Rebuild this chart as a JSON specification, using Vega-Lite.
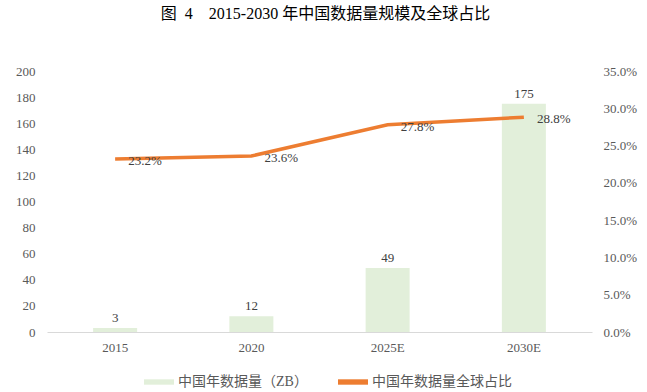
{
  "$schema": "https://vega.github.io/schema/vega-lite/v6.json",
  "width": 545,
  "height": 261,
  "autosize": "none",
  "padding": {"left": 47, "top": 71, "right": 55, "bottom": 60},
  "title": {
    "text": "图\u00a0\u00a04\u00a0\u00a0\u00a0\u00a02015-2030 年中国数据量规模及全球占比",
    "font": "Liberation Serif, Noto Sans CJK SC",
    "fontSize": 16,
    "fontWeight": "normal",
    "color": "#000000",
    "anchor": "middle",
    "offset": 43,
    "dx": 6
  },
  "data": {
    "values": [
      {"year": "2015", "volume": 3, "share": 0.232, "vlabel": "3", "slabel": "23.2%"},
      {"year": "2020", "volume": 12, "share": 0.236, "vlabel": "12", "slabel": "23.6%"},
      {"year": "2025E", "volume": 49, "share": 0.278, "vlabel": "49", "slabel": "27.8%"},
      {"year": "2030E", "volume": 175, "share": 0.288, "vlabel": "175", "slabel": "28.8%"}
    ]
  },
  "encoding": {
    "x": {
      "field": "year",
      "type": "nominal",
      "sort": null,
      "scale": {"paddingInner": 0.677, "paddingOuter": 0.3385},
      "axis": {
        "title": null,
        "labelAngle": 0,
        "ticks": false,
        "domainColor": "#d9d9d9",
        "labelPadding": 9,
        "labelFont": "Liberation Serif",
        "labelFontSize": 13,
        "labelColor": "#595959"
      }
    }
  },
  "layer": [
    {
      "mark": {"type": "bar", "color": "#E2EFDA"},
      "encoding": {
        "y": {
          "field": "volume",
          "type": "quantitative",
          "scale": {"domain": [0, 200]},
          "axis": {
            "title": null,
            "values": [0, 20, 40, 60, 80, 100, 120, 140, 160, 180, 200],
            "grid": false,
            "domain": false,
            "ticks": false,
            "labelPadding": 12,
            "labelFont": "Liberation Serif",
            "labelFontSize": 13,
            "labelColor": "#595959"
          }
        },
        "color": {
          "datum": "中国年数据量（ZB）",
          "type": "nominal",
          "scale": {"domain": ["中国年数据量（ZB）", "中国年数据量全球占比"], "range": ["#E2EFDA", "#ED7D31"]},
          "legend": {
            "title": null,
            "orient": "none",
            "legendX": 97,
            "legendY": 296,
            "direction": "horizontal",
            "symbolType": "M-1,-0.18H1V0.18H-1Z",
            "symbolSize": 900,
            "symbolStrokeWidth": 0,
            "labelFont": "Liberation Serif, Noto Sans CJK SC",
            "labelFontSize": 14,
            "labelColor": "#595959",
            "columnPadding": 30,
            "labelOffset": 4
          }
        }
      }
    },
    {
      "mark": {"type": "text", "dy": -10, "font": "Liberation Serif", "fontSize": 13, "color": "#404040"},
      "encoding": {
        "y": {"field": "volume", "type": "quantitative", "scale": {"domain": [0, 200]}, "axis": null},
        "text": {"field": "vlabel"}
      }
    },
    {
      "mark": {"type": "line", "strokeWidth": 3.5, "color": "#ED7D31"},
      "encoding": {
        "y": {
          "field": "share",
          "type": "quantitative",
          "scale": {"domain": [0, 0.35]},
          "axis": {
            "orient": "right",
            "title": null,
            "format": ".1%",
            "values": [0, 0.05, 0.1, 0.15, 0.2, 0.25, 0.3, 0.35],
            "grid": false,
            "domain": false,
            "ticks": false,
            "labelPadding": 11,
            "labelFont": "Liberation Serif",
            "labelFontSize": 13,
            "labelColor": "#595959"
          }
        },
        "color": {"datum": "中国年数据量全球占比", "type": "nominal"}
      }
    },
    {
      "mark": {"type": "text", "align": "left", "baseline": "middle", "dx": 13, "dy": 2, "font": "Liberation Serif", "fontSize": 13, "color": "#404040"},
      "encoding": {
        "y": {"field": "share", "type": "quantitative", "scale": {"domain": [0, 0.35]}, "axis": null},
        "text": {"field": "slabel"}
      }
    }
  ],
  "resolve": {"scale": {"y": "independent"}},
  "config": {"view": {"stroke": null}}
}
